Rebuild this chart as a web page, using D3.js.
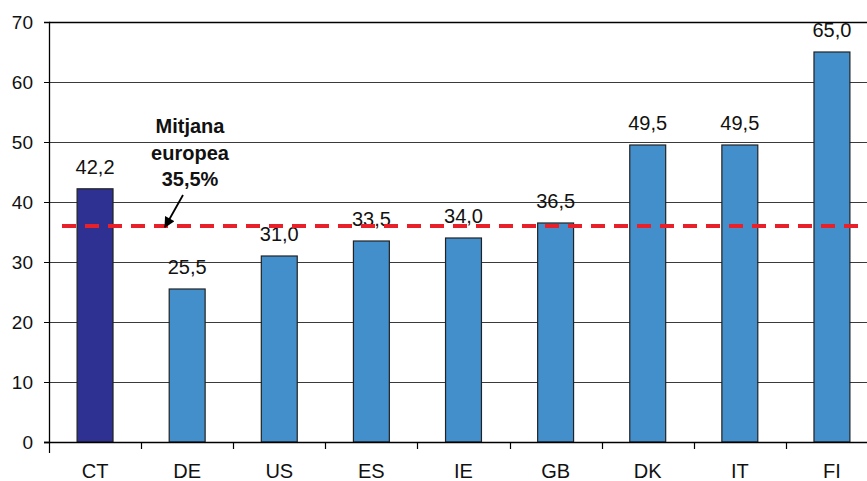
<!DOCTYPE html>
<html>
<head>
<meta charset="utf-8">
<script src="https://cdn.jsdelivr.net/npm/d3@7"></script>
<style>
  body { margin: 0; background: #fff; }
  svg { display: block; font-family: "Liberation Sans", Arial, sans-serif; }
</style>
</head>
<body>
<svg id="chart" width="867" height="481"></svg>
<script>
// data
var categories = ["CT", "DE", "US", "ES", "IE", "GB", "DK", "IT", "FI"];
var values = [42.2, 25.5, 31.0, 33.5, 34.0, 36.5, 49.5, 49.5, 65.0];
var valueLabels = ["42,2", "25,5", "31,0", "33,5", "34,0", "36,5", "49,5", "49,5", "65,0"];
var yTicks = [0, 10, 20, 30, 40, 50, 60, 70];
var averageLine = 36;
var averageText = ["Mitjana", "europea", "35,5%"];

var svg = d3.select("#chart");
const margin = {top: 22, left: 49, bottom: 39},
  plotRight = 878, // plot runs past the picture's right edge
  height = 481 - margin.top - margin.bottom;

const x = d3.scaleBand()
  .domain(categories)
  .range([margin.left, plotRight]);

const y = d3.scaleLinear()
  .domain([0, 70])
  .range([margin.top + height, margin.top]);

/** gridlines */
svg.selectAll(".grid").data(yTicks.filter(d => d > 0)).join("line")
  .attr("class", "grid")
  .attr("x1", margin.left).attr("x2", plotRight)
  .attr("y1", d => Math.round(y(d)) + 0.5).attr("y2", d => Math.round(y(d)) + 0.5)
  .attr("stroke", d => d === 70 ? "#000" : "#3a3a3a")
  .attr("stroke-width", d => d === 70 ? 1.5 : 1.2);

/** bars */
var barW = x.bandwidth() * 0.39;
svg.selectAll(".bar").data(categories).join("rect")
  .attr("class", "bar")
  .attr("x", d => x(d) + x.bandwidth() / 2 - barW / 2)
  .attr("width", barW)
  .attr("y", (d, i) => y(values[i]))
  .attr("height", (d, i) => y(0) - y(values[i]))
  .attr("fill", (d, i) => i === 0 ? "#2e3192" : "#428fcc")
  .attr("stroke", "#222")
  .attr("stroke-width", 1.2);

/** value labels */
svg.selectAll(".val").data(categories).join("text")
  .attr("class", "val")
  .attr("x", d => x(d) + x.bandwidth() / 2)
  .attr("y", (d, i) => y(values[i]) - 15)
  .attr("text-anchor", "middle")
  .attr("font-size", 20)
  .attr("fill", "#111")
  .text((d, i) => valueLabels[i]);

/** Y axis */
var yAxis = svg.append("g")
  .attr("transform", `translate(${margin.left},0)`)
  .call(d3.axisLeft(y).tickValues(yTicks).tickSize(5).tickPadding(11));
yAxis.select(".domain").attr("stroke", "#000").attr("stroke-width", 1.3);
yAxis.selectAll("text").attr("font-size", 19).attr("fill", "#111")
  .attr("font-family", "Liberation Sans, Arial, sans-serif");
yAxis.selectAll("line").attr("stroke", "#000");

/** X axis with ticks between categories */
var xg = svg.append("g");
xg.append("line")
  .attr("x1", margin.left - 5).attr("x2", plotRight)
  .attr("y1", y(0) + 0.5).attr("y2", y(0) + 0.5)
  .attr("stroke", "#000").attr("stroke-width", 1.3);
xg.selectAll(".xtick").data(categories).join("line")
  .attr("class", "xtick")
  .attr("x1", d => Math.round(x(d)) + 0.5).attr("x2", d => Math.round(x(d)) + 0.5)
  .attr("y1", y(0)).attr("y2", (d, i) => y(0) + (i === 0 ? 11 : 7))
  .attr("stroke", "#000").attr("stroke-width", 1.2);
xg.selectAll(".xlab").data(categories).join("text")
  .attr("class", "xlab")
  .attr("x", d => x(d) + x.bandwidth() / 2)
  .attr("y", y(0) + 36)
  .attr("text-anchor", "middle")
  .attr("font-size", 20)
  .attr("fill", "#111")
  .text(d => d);

/** average dashed line */
svg.append("line")
  .attr("x1", 62).attr("x2", 867)
  .attr("y1", y(averageLine)).attr("y2", y(averageLine))
  .attr("stroke", "#e8202a")
  .attr("stroke-width", 4)
  .attr("stroke-dasharray", "14,9");

/** annotation */
svg.selectAll(".avgtxt").data(averageText).join("text")
  .attr("class", "avgtxt")
  .attr("x", 190)
  .attr("y", (d, i) => 133 + i * 26.5)
  .attr("text-anchor", "middle")
  .attr("font-size", 20)
  .attr("font-weight", "bold")
  .attr("fill", "#111")
  .text(d => d);

svg.append("defs").append("marker")
  .attr("id", "arrowhead")
  .attr("viewBox", "0 0 10 10")
  .attr("refX", 9).attr("refY", 5)
  .attr("markerWidth", 7).attr("markerHeight", 6)
  .attr("orient", "auto")
  .append("path").attr("d", "M0,0L10,5L0,10z").attr("fill", "#000");

svg.append("line")
  .attr("x1", 183).attr("y1", 195)
  .attr("x2", 165).attr("y2", y(averageLine) + 1)
  .attr("stroke", "#000").attr("stroke-width", 1.8)
  .attr("marker-end", "url(#arrowhead)");
</script>
</body>
</html>
